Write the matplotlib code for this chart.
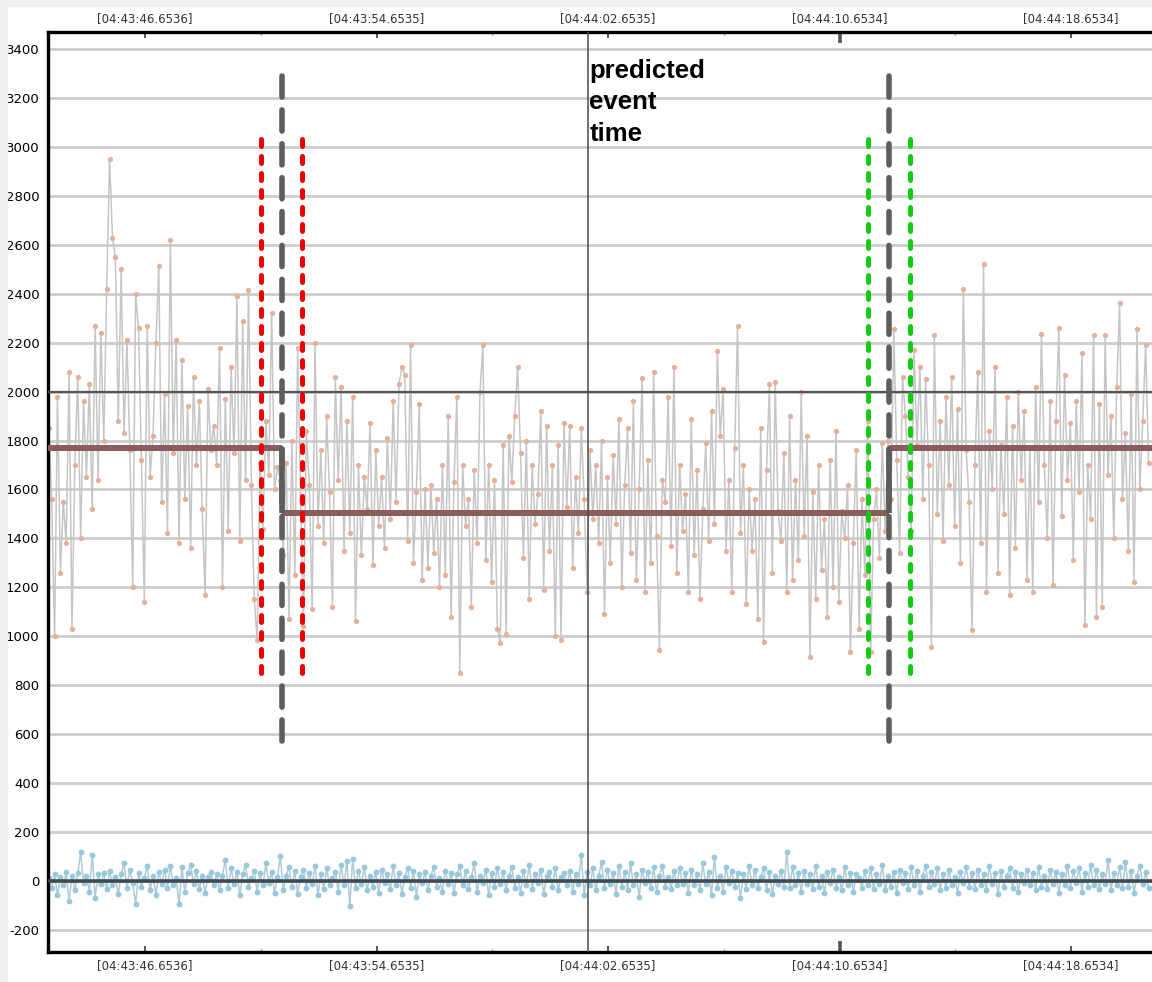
import matplotlib
matplotlib.use('Agg')
import matplotlib.pyplot as plt
import numpy as np
from matplotlib.patches import Rectangle

# time axis in seconds after 04:43:00
T0 = 43.33          # first sample
DT = 0.1            # sample period
X_LEFT, X_RIGHT = 43.302, 81.45
Y_BOTTOM, Y_TOP = -292, 3471

tick_times = [46.6536, 54.6535, 62.6535, 70.6534, 78.6534]
tick_labels = ['[04:43:46.6536]', '[04:43:54.6535]', '[04:44:02.6535]',
               '[04:44:10.6534]', '[04:44:18.6534]']
minor_times = [50.6536, 58.6535, 66.6535, 74.6534]
y_ticks = list(range(-200, 3401, 200))

# raw signal (orange), three regimes
signal_before = [1850, 1560, 1000, 1980, 1260, 1550, 1380, 2080, 1030, 1700,
                 2060, 1400, 1960, 1650, 2030, 1520, 2270, 1640, 2240, 1800,
                 2420, 2950, 2630, 2550, 1880, 2500, 1830, 2210, 1760, 1200,
                 2400, 2260, 1720, 1140, 2270, 1650, 1820, 2200, 2515, 1550,
                 1990, 1420, 2620, 1750, 2210, 1380, 2130, 1560, 1940, 1360,
                 2060, 1700, 1960, 1520, 1170, 2010, 1760, 1860, 1700, 2180,
                 1200, 1970, 1430, 2100, 1750, 2390, 1390, 2290, 1640, 2415,
                 1620, 1150, 985, 1710, 1440, 1880, 1660, 2320, 1600, 1690]
signal_during = [1640, 1330, 1710, 1070, 1800, 1250, 2180, 1560, 1040, 1840,
                 1620, 1110, 2200, 1450, 1760, 1380, 1900, 1590, 1120, 2060,
                 1640, 2020, 1350, 1880, 1420, 1980, 1060, 1700, 1330, 1650,
                 1520, 1870, 1290, 1760, 1450, 1650, 1360, 1810, 1480, 1960,
                 1550, 2030, 2100, 2070, 1390, 2190, 1300, 1590, 1950, 1230,
                 1600, 1280, 1620, 1340, 1560, 1200, 1700, 1250, 1900, 1080,
                 1630, 1980, 850, 1700, 1450, 1560, 1120, 1680, 1380, 2000,
                 2190, 1310, 1700, 1220, 1640, 1030, 973, 1780, 1010, 1820,
                 1630, 1900, 2100, 1750, 1320, 1800, 1150, 1700, 1460, 1580,
                 1920, 1190, 1860, 1350, 1700, 1000, 1780, 985, 1870, 1530,
                 1860, 1280, 1650, 1420, 1850, 1560, 1180, 1760, 1480, 1700,
                 1380, 1800, 1090, 1650, 1300, 1740, 1460, 1890, 1200, 1620,
                 1850, 1340, 1960, 1230, 1600, 2055, 1180, 1720, 1300, 2080,
                 1410, 943, 1640, 1550, 1980, 1370, 2100, 1260, 1700, 1430,
                 1580, 1180, 1890, 1330, 1680, 1150, 1520, 1790, 1390, 1920,
                 1460, 2165, 1820, 2010, 1350, 1640, 1180, 1770, 2270, 1420,
                 1700, 1130, 1600, 1350, 1560, 1070, 1850, 975, 1680, 2030,
                 1260, 2040, 1510, 1390, 1750, 1180, 1900, 1230, 1640, 1310,
                 2000, 1410, 1820, 915, 1590, 1150, 1700, 1270, 1480, 1080,
                 1720, 1200, 1840, 1140, 1510, 1400, 1620, 935, 1380, 1760,
                 1030, 1560, 1250, 1880, 935, 1480, 1600, 1320, 1790, 1430]
signal_after = [1800, 1560, 2255, 1720, 1340, 2060, 1900, 1650, 1430, 2170,
                1780, 2100, 1560, 2050, 1700, 957, 2230, 1500, 1880, 1390,
                1980, 1620, 2060, 1450, 1930, 1300, 2420, 1760, 1550, 1027,
                1700, 2080, 1380, 2522, 1180, 1840, 1600, 2100, 1260, 1780,
                1500, 1980, 1170, 1860, 1360, 2000, 1640, 1920, 1230, 1770,
                1180, 2020, 1550, 2235, 1700, 1400, 1960, 1210, 1880, 2260,
                1490, 2070, 1640, 1870, 1310, 1960, 1590, 2160, 1046, 1700,
                1480, 2230, 1080, 1950, 1120, 2230, 1660, 1900, 1400, 2020,
                2362, 1560, 1830, 1350, 1990, 1220, 2255, 1600, 1880, 2190, 1710]

# residual (blue) around zero
residual = [10, -30, 25, -60, 15, -20, 35, -85, 20, -40, 30, 116, -10, 20, -45, 105, -70, 25, -15, 30,
            -35, 40, -20, 15, -55, 25, 70, -30, 45, -10, -95, 30, -25, 10, 60, -40, 20, -60, 35, -15,
            45, -30, 60, -20, 10, -95, 55, -45, 30, 65, -15, 40, -35, 20, -50, 15, 35, -20, 25, -40,
            20, 85, -30, 50, -15, 35, -60, 25, 65, -25, 10, 40, -45, 30, -20, 70, -10, 35, -50, 15,
            100, -40, 20, 55, -25, 40, -55, 15, 45, -30, 30, -15, 60, -60, 25, -35, 50, -20, 10, 35,
            -45, 65, -20, 80, -104, 90, -30, 40, -15, 55, -40, 20, -25, 35, -50, 45, -10, 25, -35, 60,
            -20, 30, -55, 15, 50, -30, 40, -65, 25, -10, 35, -40, 20, 55, -25, 10, -45, 40, -15, 30,
            -50, 25, 60, -20, 40, -35, 15, 70, -45, 20, -10, 45, -60, 30, -25, 50, -15, 35, -40, 20,
            55, -30, 15, -50, 40, -20, 65, -35, 25, -10, 45, -55, 20, 35, -25, 50, -40, 15, 30, -20,
            40, -45, 25, -15, 105, -60, 35, -20, 50, -40, 20, 75, -30, 45, -15, 30, -55, 60, -25, 35,
            -40, 70, -20, 25, -65, 45, -10, 35, -30, 55, -45, 20, 60, -25, 15, -35, 40, -20, 50, -15,
            30, -50, 45, -20, 25, -40, 70, -15, 35, -60, 95, -30, 20, -45, 55, -10, 40, -25, 30, -70,
            25, -35, 60, -20, 45, -30, 15, 50, -40, 35, -55, 20, -15, 40, -25, 115, -30, 55, -20, 30,
            -45, 40, -15, 25, -35, 60, -25, 20, -50, 35, -10, 45, -30, 15, -40, 55, -20, 30, -45, 25,
            10, -30, 40, -20, 50, -35, 25, -15, 65, -40, 20, -25, 35, -50, 45, -10, 30, -35, 55, -20,
            40, -45, 20, 60, -25, 35, -15, 50, -40, 25, -30, 45, -20, 15, -50, 35, -10, 55, -25, 30,
            -35, 45, -20, 25, -40, 60, -15, 30, -55, 40, -25, 20, 50, -30, 35, -45, 25, -10, 45, -20,
            30, -40, 55, -25, 20, -35, 45, -15, 35, -50, 25, -20, 60, -30, 40, -10, 50, -45, 30, -25,
            65, -20, 45, -35, 25, -15, 85, -40, 30, -20, 55, -30, 75, -25, 40, -50, 20, 60, -15, 35, -30]

# segment means and detected change points
mean_levels = [1768, 1502, 1768]
change_times = [51.377, 72.372]
threshold = 2000
predicted_time = 61.961

# confidence bands around each change point
red_bounds = [50.662, 52.089]
green_bounds = [71.647, 73.088]
band_span = (850, 3050)
change_span = (570, 3330)

signal = np.array(signal_before + signal_during + signal_after, dtype=float)
t_sig = T0 + DT * np.arange(len(signal))
resid = np.array(residual, dtype=float)
t_res = T0 + DT * np.arange(len(resid))

fig = plt.figure(figsize=(11.52, 9.82), dpi=100)
fig.patches.append(Rectangle((0, 1 - 6 / 982), 1, 6 / 982, transform=fig.transFigure,
                             color='#eeeeee', zorder=0))
fig.patches.append(Rectangle((0, 0), 7 / 1152, 1, transform=fig.transFigure,
                             color='#eeeeee', zorder=0))
ax = fig.add_axes([48 / 1152, 30 / 982, 1 - 48 / 1152, 920 / 982])
ax.set_xlim(X_LEFT, X_RIGHT)
ax.set_ylim(Y_BOTTOM, Y_TOP)

# grid
for yv in y_ticks:
    ax.axhline(yv, color='#cdcdcd', lw=2.0, zorder=1)
ax.axhline(threshold, color='#555555', lw=1.6, zorder=4)

# data
ax.plot(t_sig, signal, color='#c6c6c6', lw=1.1, zorder=2,
        marker='o', ms=3.8, mfc='#e3b09c', mec='none')
ax.plot(t_res, resid, color='#aecbd6', lw=1.1, zorder=2,
        marker='o', ms=4.2, mfc='#98c8dc', mec='none')
ax.axhline(0, color='#3f4a50', lw=2.6, zorder=3)

# segment means
xmins = [X_LEFT] + change_times
xmaxs = change_times + [X_RIGHT]
ax.hlines(mean_levels, xmins, xmaxs, color='#8a5c5c', lw=4.3, zorder=5)
ax.vlines(change_times, mean_levels[1], mean_levels[0], color='#5a5a5a', lw=4.0, zorder=6)

# change point markers
for xb in red_bounds:
    ax.plot([xb, xb], band_span, color='#ee0000', lw=3.6, dashes=(1.4, 2.0),
            dash_capstyle='round', zorder=7)
for xb in green_bounds:
    ax.plot([xb, xb], band_span, color='#11cc11', lw=3.6, dashes=(1.4, 2.0),
            dash_capstyle='round', zorder=7)
for xc in change_times:
    ax.plot([xc, xc], change_span, color='#5e5e5e', lw=4.0, dashes=(3.8, 2.3),
            dash_capstyle='round', zorder=7)

ax.axvline(predicted_time, color='#4a4a4a', lw=1.1, zorder=8)
ax.text(predicted_time + 0.05, 3360, 'predicted\nevent\ntime', family='Liberation Sans',
        fontsize=18.5, fontweight='bold', va='top', ha='left', linespacing=1.38, zorder=9)

# axes styling
for side in ['left', 'top', 'bottom']:
    ax.spines[side].set_linewidth(2.4)
    ax.spines[side].set_color('black')
ax.spines['right'].set_visible(False)

ax.set_yticks(y_ticks)
ax.set_yticklabels([str(v) for v in y_ticks])
ax.tick_params(axis='y', length=0, pad=6, labelsize=9.5)

ax.set_xticks(tick_times)
ax.set_xticklabels(tick_labels)
ax.set_xticks(minor_times, minor=True)
ax.tick_params(axis='x', which='major', direction='in', top=True, bottom=True,
               labeltop=True, labelbottom=True, length=4, width=1.4, color='#555555',
               labelsize=8.5, labelcolor='#333333', pad=5)
ax.tick_params(axis='x', which='minor', direction='in', top=True, bottom=True,
               length=2.5, width=1.0, color='#888888')

# highlighted tick
hl = ax.xaxis.get_major_ticks()[3]
for ln in (hl.tick1line, hl.tick2line):
    ln.set_markersize(8)
    ln.set_markeredgewidth(2.6)
    ln.set_color('black')

fig.savefig('out.png', dpi=100)
